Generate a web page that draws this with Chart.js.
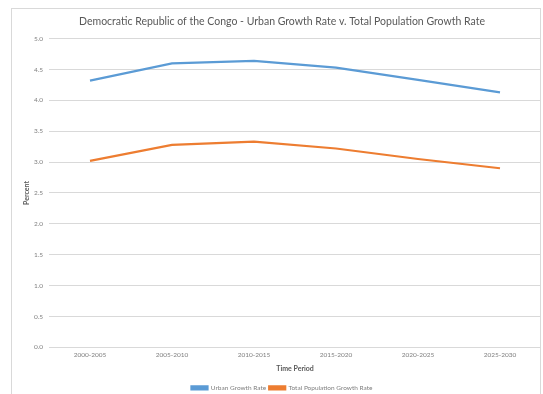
<!DOCTYPE html>
<html><head><meta charset="utf-8">
<script src="https://cdn.jsdelivr.net/npm/chart.js@4/dist/chart.umd.min.js"></script>
<style>
html,body{margin:0;padding:0;background:#fff;overflow:hidden;}
#wrap{position:absolute;left:0;top:0;width:543px;height:401px;}
#frame{position:absolute;left:11px;top:8px;width:530px;height:400px;border:1px solid #d9d9d9;box-sizing:border-box;pointer-events:none;}
</style></head>
<body>
<div id="wrap"><canvas id="c" width="543" height="401"></canvas></div>
<div id="frame"></div>
<script>
const categories = ["2000-2005","2005-2010","2010-2015","2015-2020","2020-2025","2025-2030"];
const urbanGrowth = [4.32, 4.60, 4.64, 4.53, 4.33, 4.13];
const totalGrowth = [3.02, 3.28, 3.33, 3.22, 3.05, 2.90];
const yTicks = [0,0.5,1,1.5,2,2.5,3,3.5,4,4.5,5];

const FONT = "Lato, 'Open Sans', sans-serif";
new Chart(document.getElementById('c'), {
  type: 'line',
  data: {
    labels: categories,
    datasets: [
      {label: 'Urban Growth Rate', data: urbanGrowth, borderColor: '#5b9bd5', backgroundColor: '#5b9bd5', borderWidth: 2.25, pointRadius: 0, tension: 0},
      {label: 'Total Population Growth Rate', data: totalGrowth, borderColor: '#ed7d31', backgroundColor: '#ed7d31', borderWidth: 2.25, pointRadius: 0, tension: 0}
    ]
  },
  options: {
    responsive: false, animation: false,
    layout: {padding: {left: 23, right: 2, top: 13, bottom: 0}},
    plugins: {
      title: {display: true, text: 'Democratic Republic of the Congo - Urban Growth Rate v. Total Population Growth Rate',
        color: '#595959', font: {family: FONT, size: 10.5, weight: 'normal'}, padding: {top: 2, bottom: 11}},
      legend: {position: 'bottom', labels: {boxWidth: 16, boxHeight: 3, color: '#7f7f7f', font: {family: FONT, size: 6.5}, padding: 3}},
      tooltip: {enabled: false}
    },
    scales: {
      x: {
        offset: true,
        grid: {display: false, drawTicks: false},
        border: {display: false},
        ticks: {color: '#7f7f7f', font: {family: FONT, size: 6.5}, padding: 4, maxRotation: 0},
        title: {display: true, text: 'Time Period', color: '#595959', font: {family: FONT, size: 7, weight: 'bold'}, padding: {top: 1, bottom: 9}}
      },
      y: {
        min: 0, max: 5,
        afterBuildTicks: (ax) => { ax.ticks = yTicks.map(v => ({value: v})); },
        afterFit: (ax) => { ax.width = 26; },
        grid: {color: '#d9d9d9', drawTicks: false, lineWidth: 1},
        border: {display: false},
        ticks: {color: '#7f7f7f', font: {family: FONT, size: 6.5}, padding: 6, callback: v => Number(v).toFixed(1)},
        title: {display: true, text: 'Percent', color: '#595959', font: {family: FONT, size: 7, weight: 'bold'}, padding: 0}
      }
    }
  }
});
</script>
</body></html>
